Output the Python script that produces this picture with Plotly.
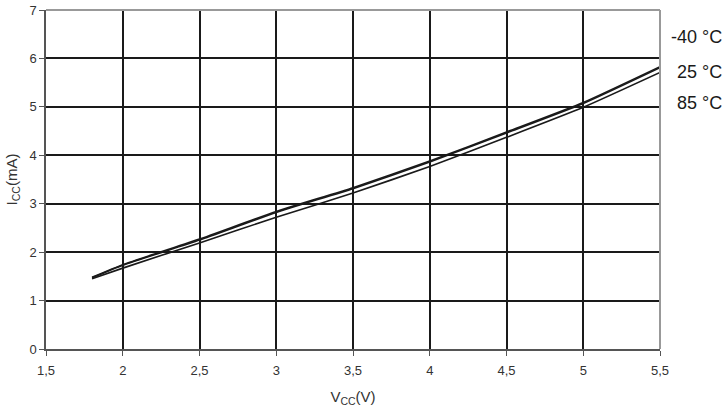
import plotly.graph_objects as go

vcc = [1.8, 2.0, 2.5, 3.0, 3.5, 4.0, 4.5, 5.0, 5.5]
icc_m40 = [1.48, 1.74, 2.27, 2.84, 3.33, 3.88, 4.48, 5.09, 5.83]
icc_25 = [1.47, 1.73, 2.25, 2.82, 3.31, 3.86, 4.46, 5.07, 5.81]
icc_85 = [1.45, 1.67, 2.19, 2.72, 3.22, 3.77, 4.37, 4.99, 5.71]

series_names = ["-40 °C", "25 °C", "85 °C"]
label_y = [6.44, 5.72, 5.08]

x_ticks = [1.5, 2, 2.5, 3, 3.5, 4, 4.5, 5, 5.5]
x_ticktext = ["1,5", "2", "2,5", "3", "3,5", "4", "4,5", "5", "5,5"]
y_ticks = [0, 1, 2, 3, 4, 5, 6, 7]

fig = go.Figure()
for name, vals in zip(series_names, [icc_m40, icc_25, icc_85]):
    fig.add_trace(go.Scatter(x=vcc, y=vals, mode="lines", name=name,
                             line=dict(color="#1a1a1a", width=1.6,
                                       shape="spline", smoothing=0.5)))

for name, ly in zip(series_names, label_y):
    fig.add_annotation(x=1.104, xref="paper", y=ly, yref="y", text=name,
                       showarrow=False, xanchor="right", yanchor="middle",
                       font=dict(size=18, color="#1a1a1a"))

fig.update_layout(
    width=727, height=407,
    margin=dict(l=46, r=67, t=10, b=58, autoexpand=False),
    plot_bgcolor="white", paper_bgcolor="white",
    showlegend=False,
    font=dict(family="Liberation Sans, Arial, sans-serif", color="#333333", size=13),
)
fig.update_xaxes(range=[1.5, 5.5], tickvals=x_ticks, ticktext=x_ticktext,
                 automargin=False, ticklabelstandoff=4,
                 showgrid=True, gridcolor="#1a1a1a", gridwidth=2,
                 showline=True, linecolor="#555555", linewidth=1.5, mirror=False,
                 ticks="outside", ticklen=5, tickcolor="#555555",
                 zeroline=False,
                 title=dict(text="V<sub>CC</sub>(V)", font=dict(size=15), standoff=14))
fig.update_yaxes(range=[0, 7], tickvals=y_ticks,
                 automargin=False,
                 showgrid=True, gridcolor="#1a1a1a", gridwidth=2,
                 showline=True, linecolor="#555555", linewidth=1.5,
                 ticks="outside", ticklen=5, tickcolor="#555555",
                 zeroline=False,
                 title=dict(text="I<sub>CC</sub>(mA)", font=dict(size=15), standoff=8))

# grey top and right border
fig.add_shape(type="line", xref="paper", yref="paper", x0=0, x1=1, y0=1, y1=1,
              line=dict(color="#999999", width=2))
fig.add_shape(type="line", xref="paper", yref="paper", x0=1, x1=1, y0=0, y1=1,
              line=dict(color="#999999", width=2))

fig.write_html("out.html", config={"displayModeBar": False},
               post_script="document.body.style.margin='0';document.body.style.overflow='hidden';")
